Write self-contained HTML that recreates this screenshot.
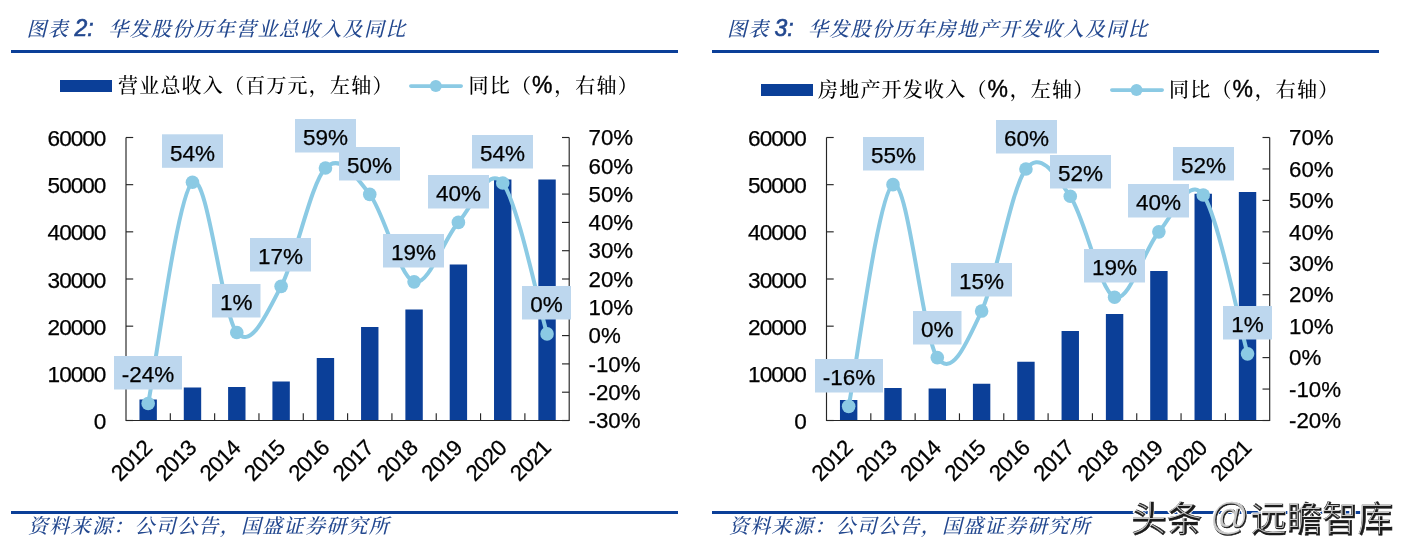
<!DOCTYPE html>
<html lang="zh-CN">
<head>
<meta charset="utf-8">
<title>华发股份历年营业总收入及同比</title>
<style>
html,body{margin:0;padding:0;background:#fff;}
body{width:1408px;height:553px;overflow:hidden;}
svg{display:block;}
</style>
</head>
<body>
<svg width="1408" height="553" viewBox="0 0 1408 553">
<rect width="1408" height="553" fill="#fff"/>
<g font-family='"Liberation Serif", "Noto Serif CJK SC", serif' font-style="italic" font-weight="500" letter-spacing="1.3" fill="#23488F">
<text x="26.5" y="35.5" font-size="20">图表</text><text x="74.5" y="36" font-family='"Liberation Sans", sans-serif' font-weight="normal" font-size="23" letter-spacing="0" stroke="#23488F" stroke-width="0.6">2:</text><text x="108.3" y="35.5" font-size="20">华发股份历年营业总收入及同比</text>
<text x="727" y="35.5" font-size="20">图表</text><text x="774.5" y="36" font-family='"Liberation Sans", sans-serif' font-weight="normal" font-size="23" letter-spacing="0" stroke="#23488F" stroke-width="0.6">3:</text><text x="808" y="35.5" font-size="20">华发股份历年房地产开发收入及同比</text>
<text x="28" y="533" font-size="20">资料来源：公司公告，国盛证券研究所</text>
<text x="729" y="533" font-size="20">资料来源：公司公告，国盛证券研究所</text>
</g>
<rect x="11" y="50" width="667" height="3" fill="#0B3F98"/>
<rect x="712" y="50" width="667" height="3" fill="#0B3F98"/>
<rect x="11" y="511" width="667" height="3" fill="#0B3F98"/>
<rect x="712" y="511" width="667" height="3" fill="#0B3F98"/>
<g font-family='"Liberation Serif", "Noto Serif CJK SC", serif' font-size="20" font-weight="500" letter-spacing="1.2" fill="#000">
<rect x="60" y="80" width="52" height="12" fill="#0B3F98"/>
<text x="118" y="92.5">营业总收入（百万元，左轴）</text>
<path d="M410.8,86.1 H461.2" stroke="#8BCAE4" stroke-width="3.6" stroke-linecap="round"/><circle cx="435.8" cy="86" r="6" fill="#8BCAE4"/>
<text x="468.5" y="92.5">同比（<tspan font-family='"Liberation Sans", sans-serif' font-size="23" font-weight="400" letter-spacing="1.6" stroke="#000" stroke-width="0.4">%</tspan>，右轴）</text>
<rect x="761" y="84" width="52" height="12" fill="#0B3F98"/>
<text x="818" y="96.5">房地产开发收入（<tspan font-family='"Liberation Sans", sans-serif' font-size="23" font-weight="400" letter-spacing="1.6" stroke="#000" stroke-width="0.4">%</tspan>，左轴）</text>
<path d="M1111.8,90.1 H1162.2" stroke="#8BCAE4" stroke-width="3.6" stroke-linecap="round"/><circle cx="1136.5" cy="90" r="6" fill="#8BCAE4"/>
<text x="1169" y="96.5">同比（<tspan font-family='"Liberation Sans", sans-serif' font-size="23" font-weight="400" letter-spacing="1.6" stroke="#000" stroke-width="0.4">%</tspan>，右轴）</text>
</g>
<rect x="139.46" y="399.50" width="17.4" height="21.00" fill="#0B3F98"/>
<rect x="183.78" y="387.50" width="17.4" height="33.00" fill="#0B3F98"/>
<rect x="228.10" y="387.00" width="17.4" height="33.50" fill="#0B3F98"/>
<rect x="272.42" y="381.50" width="17.4" height="39.00" fill="#0B3F98"/>
<rect x="316.74" y="358.00" width="17.4" height="62.50" fill="#0B3F98"/>
<rect x="361.06" y="327.00" width="17.4" height="93.50" fill="#0B3F98"/>
<rect x="405.38" y="309.50" width="17.4" height="111.00" fill="#0B3F98"/>
<rect x="449.70" y="264.50" width="17.4" height="156.00" fill="#0B3F98"/>
<rect x="494.02" y="179.50" width="17.4" height="241.00" fill="#0B3F98"/>
<rect x="538.34" y="179.50" width="17.4" height="241.00" fill="#0B3F98"/>
<g stroke="#262626" stroke-width="1.15" fill="none">
<path d="M126.00,137.50 V420.50 H569.20 V137.50"/>
<path d="M126.00,420.50 h7.2"/>
<path d="M126.00,373.33 h7.2"/>
<path d="M126.00,326.17 h7.2"/>
<path d="M126.00,279.00 h7.2"/>
<path d="M126.00,231.83 h7.2"/>
<path d="M126.00,184.67 h7.2"/>
<path d="M126.00,137.50 h7.2"/>
<path d="M569.20,420.50 h-7.2"/>
<path d="M569.20,392.20 h-7.2"/>
<path d="M569.20,363.90 h-7.2"/>
<path d="M569.20,335.60 h-7.2"/>
<path d="M569.20,307.30 h-7.2"/>
<path d="M569.20,279.00 h-7.2"/>
<path d="M569.20,250.70 h-7.2"/>
<path d="M569.20,222.40 h-7.2"/>
<path d="M569.20,194.10 h-7.2"/>
<path d="M569.20,165.80 h-7.2"/>
<path d="M569.20,137.50 h-7.2"/>
<path d="M170.32,420.50 v-7.2"/>
<path d="M214.64,420.50 v-7.2"/>
<path d="M258.96,420.50 v-7.2"/>
<path d="M303.28,420.50 v-7.2"/>
<path d="M347.60,420.50 v-7.2"/>
<path d="M391.92,420.50 v-7.2"/>
<path d="M436.24,420.50 v-7.2"/>
<path d="M480.56,420.50 v-7.2"/>
<path d="M524.88,420.50 v-7.2"/>
</g>
<g font-family='"Liberation Sans", sans-serif' font-size="22.3" fill="#000" stroke="#000" stroke-width="0.25">
<text x="105.40" y="429.00" text-anchor="end" font-size="22.6" letter-spacing="-1.0">0</text>
<text x="105.40" y="381.83" text-anchor="end" font-size="22.6" letter-spacing="-1.0">10000</text>
<text x="105.40" y="334.67" text-anchor="end" font-size="22.6" letter-spacing="-1.0">20000</text>
<text x="105.40" y="287.50" text-anchor="end" font-size="22.6" letter-spacing="-1.0">30000</text>
<text x="105.40" y="240.33" text-anchor="end" font-size="22.6" letter-spacing="-1.0">40000</text>
<text x="105.40" y="193.17" text-anchor="end" font-size="22.6" letter-spacing="-1.0">50000</text>
<text x="105.40" y="146.00" text-anchor="end" font-size="22.6" letter-spacing="-1.0">60000</text>
<text x="588.50" y="428.20">-30%</text>
<text x="588.50" y="399.90">-20%</text>
<text x="588.50" y="371.60">-10%</text>
<text x="588.50" y="343.30">0%</text>
<text x="588.50" y="315.00">10%</text>
<text x="588.50" y="286.70">20%</text>
<text x="588.50" y="258.40">30%</text>
<text x="588.50" y="230.10">40%</text>
<text x="588.50" y="201.80">50%</text>
<text x="588.50" y="173.50">60%</text>
<text x="588.50" y="145.20">70%</text>
<text transform="translate(153.16,449.50) rotate(-45)" text-anchor="end" letter-spacing="-0.8">2012</text>
<text transform="translate(197.48,449.50) rotate(-45)" text-anchor="end" letter-spacing="-0.8">2013</text>
<text transform="translate(241.80,449.50) rotate(-45)" text-anchor="end" letter-spacing="-0.8">2014</text>
<text transform="translate(286.12,449.50) rotate(-45)" text-anchor="end" letter-spacing="-0.8">2015</text>
<text transform="translate(330.44,449.50) rotate(-45)" text-anchor="end" letter-spacing="-0.8">2016</text>
<text transform="translate(374.76,449.50) rotate(-45)" text-anchor="end" letter-spacing="-0.8">2017</text>
<text transform="translate(419.08,449.50) rotate(-45)" text-anchor="end" letter-spacing="-0.8">2018</text>
<text transform="translate(463.40,449.50) rotate(-45)" text-anchor="end" letter-spacing="-0.8">2019</text>
<text transform="translate(507.72,449.50) rotate(-45)" text-anchor="end" letter-spacing="-0.8">2020</text>
<text transform="translate(552.04,449.50) rotate(-45)" text-anchor="end" letter-spacing="-0.8">2021</text>
</g>
<path d="M148.16,403.52 C155.55,366.64 177.71,194.05 192.48,182.21 C207.25,170.38 222.03,315.13 236.80,332.49 C251.57,349.84 266.35,313.76 281.12,286.36 C295.89,258.95 310.67,183.39 325.44,168.06 C340.21,152.73 354.99,175.42 369.76,194.38 C384.53,213.34 399.31,277.16 414.08,281.83 C428.85,286.50 443.63,238.86 458.40,222.40 C473.17,205.94 487.95,164.48 502.72,183.06 C517.49,201.65 539.65,308.76 547.04,333.90" fill="none" stroke="#8BCAE4" stroke-width="4" stroke-linejoin="round" stroke-linecap="round"/>
<circle cx="148.16" cy="403.52" r="6.8" fill="#8BCAE4"/>
<circle cx="192.48" cy="182.21" r="6.8" fill="#8BCAE4"/>
<circle cx="236.80" cy="332.49" r="6.8" fill="#8BCAE4"/>
<circle cx="281.12" cy="286.36" r="6.8" fill="#8BCAE4"/>
<circle cx="325.44" cy="168.06" r="6.8" fill="#8BCAE4"/>
<circle cx="369.76" cy="194.38" r="6.8" fill="#8BCAE4"/>
<circle cx="414.08" cy="281.83" r="6.8" fill="#8BCAE4"/>
<circle cx="458.40" cy="222.40" r="6.8" fill="#8BCAE4"/>
<circle cx="502.72" cy="183.06" r="6.8" fill="#8BCAE4"/>
<circle cx="547.04" cy="333.90" r="6.8" fill="#8BCAE4"/>
<g font-family='"Liberation Sans", sans-serif' font-size="22.5" fill="#000" stroke="#000" stroke-width="0.25" text-anchor="middle">
<rect x="114.00" y="356.00" width="68.00" height="33.5" fill="#BDD7EE" stroke="none"/>
<text x="148.00" y="382.40">-24%</text>
<rect x="162.00" y="134.30" width="61.00" height="33.5" fill="#BDD7EE" stroke="none"/>
<text x="192.50" y="160.70">54%</text>
<rect x="212.00" y="284.00" width="48.50" height="33.5" fill="#BDD7EE" stroke="none"/>
<text x="236.25" y="310.40">1%</text>
<rect x="250.00" y="238.00" width="61.00" height="33.5" fill="#BDD7EE" stroke="none"/>
<text x="280.50" y="264.40">17%</text>
<rect x="295.00" y="119.00" width="61.00" height="33.5" fill="#BDD7EE" stroke="none"/>
<text x="325.50" y="145.40">59%</text>
<rect x="339.00" y="147.00" width="61.00" height="33.5" fill="#BDD7EE" stroke="none"/>
<text x="369.50" y="173.40">50%</text>
<rect x="383.00" y="234.00" width="61.00" height="33.5" fill="#BDD7EE" stroke="none"/>
<text x="413.50" y="260.40">19%</text>
<rect x="428.00" y="175.00" width="61.00" height="33.5" fill="#BDD7EE" stroke="none"/>
<text x="458.50" y="201.40">40%</text>
<rect x="472.00" y="135.00" width="61.00" height="33.5" fill="#BDD7EE" stroke="none"/>
<text x="502.50" y="161.40">54%</text>
<rect x="522.00" y="286.00" width="49.00" height="33.5" fill="#BDD7EE" stroke="none"/>
<text x="546.50" y="312.40">0%</text>
</g>
<rect x="839.96" y="400.00" width="17.4" height="20.50" fill="#0B3F98"/>
<rect x="884.28" y="388.00" width="17.4" height="32.50" fill="#0B3F98"/>
<rect x="928.60" y="388.50" width="17.4" height="32.00" fill="#0B3F98"/>
<rect x="972.92" y="383.75" width="17.4" height="36.75" fill="#0B3F98"/>
<rect x="1017.24" y="361.75" width="17.4" height="58.75" fill="#0B3F98"/>
<rect x="1061.56" y="331.00" width="17.4" height="89.50" fill="#0B3F98"/>
<rect x="1105.88" y="314.00" width="17.4" height="106.50" fill="#0B3F98"/>
<rect x="1150.20" y="271.00" width="17.4" height="149.50" fill="#0B3F98"/>
<rect x="1194.52" y="193.75" width="17.4" height="226.75" fill="#0B3F98"/>
<rect x="1238.84" y="192.00" width="17.4" height="228.50" fill="#0B3F98"/>
<g stroke="#262626" stroke-width="1.15" fill="none">
<path d="M826.50,137.50 V420.50 H1269.70 V137.50"/>
<path d="M826.50,420.50 h7.2"/>
<path d="M826.50,373.33 h7.2"/>
<path d="M826.50,326.17 h7.2"/>
<path d="M826.50,279.00 h7.2"/>
<path d="M826.50,231.83 h7.2"/>
<path d="M826.50,184.67 h7.2"/>
<path d="M826.50,137.50 h7.2"/>
<path d="M1269.70,420.50 h-7.2"/>
<path d="M1269.70,389.06 h-7.2"/>
<path d="M1269.70,357.61 h-7.2"/>
<path d="M1269.70,326.17 h-7.2"/>
<path d="M1269.70,294.72 h-7.2"/>
<path d="M1269.70,263.28 h-7.2"/>
<path d="M1269.70,231.83 h-7.2"/>
<path d="M1269.70,200.39 h-7.2"/>
<path d="M1269.70,168.94 h-7.2"/>
<path d="M1269.70,137.50 h-7.2"/>
<path d="M870.82,420.50 v-7.2"/>
<path d="M915.14,420.50 v-7.2"/>
<path d="M959.46,420.50 v-7.2"/>
<path d="M1003.78,420.50 v-7.2"/>
<path d="M1048.10,420.50 v-7.2"/>
<path d="M1092.42,420.50 v-7.2"/>
<path d="M1136.74,420.50 v-7.2"/>
<path d="M1181.06,420.50 v-7.2"/>
<path d="M1225.38,420.50 v-7.2"/>
</g>
<g font-family='"Liberation Sans", sans-serif' font-size="22.3" fill="#000" stroke="#000" stroke-width="0.25">
<text x="805.90" y="429.00" text-anchor="end" font-size="22.6" letter-spacing="-1.0">0</text>
<text x="805.90" y="381.83" text-anchor="end" font-size="22.6" letter-spacing="-1.0">10000</text>
<text x="805.90" y="334.67" text-anchor="end" font-size="22.6" letter-spacing="-1.0">20000</text>
<text x="805.90" y="287.50" text-anchor="end" font-size="22.6" letter-spacing="-1.0">30000</text>
<text x="805.90" y="240.33" text-anchor="end" font-size="22.6" letter-spacing="-1.0">40000</text>
<text x="805.90" y="193.17" text-anchor="end" font-size="22.6" letter-spacing="-1.0">50000</text>
<text x="805.90" y="146.00" text-anchor="end" font-size="22.6" letter-spacing="-1.0">60000</text>
<text x="1289.00" y="428.20">-20%</text>
<text x="1289.00" y="396.76">-10%</text>
<text x="1289.00" y="365.31">0%</text>
<text x="1289.00" y="333.87">10%</text>
<text x="1289.00" y="302.42">20%</text>
<text x="1289.00" y="270.98">30%</text>
<text x="1289.00" y="239.53">40%</text>
<text x="1289.00" y="208.09">50%</text>
<text x="1289.00" y="176.64">60%</text>
<text x="1289.00" y="145.20">70%</text>
<text transform="translate(853.66,449.50) rotate(-45)" text-anchor="end" letter-spacing="-0.8">2012</text>
<text transform="translate(897.98,449.50) rotate(-45)" text-anchor="end" letter-spacing="-0.8">2013</text>
<text transform="translate(942.30,449.50) rotate(-45)" text-anchor="end" letter-spacing="-0.8">2014</text>
<text transform="translate(986.62,449.50) rotate(-45)" text-anchor="end" letter-spacing="-0.8">2015</text>
<text transform="translate(1030.94,449.50) rotate(-45)" text-anchor="end" letter-spacing="-0.8">2016</text>
<text transform="translate(1075.26,449.50) rotate(-45)" text-anchor="end" letter-spacing="-0.8">2017</text>
<text transform="translate(1119.58,449.50) rotate(-45)" text-anchor="end" letter-spacing="-0.8">2018</text>
<text transform="translate(1163.90,449.50) rotate(-45)" text-anchor="end" letter-spacing="-0.8">2019</text>
<text transform="translate(1208.22,449.50) rotate(-45)" text-anchor="end" letter-spacing="-0.8">2020</text>
<text transform="translate(1252.54,449.50) rotate(-45)" text-anchor="end" letter-spacing="-0.8">2021</text>
</g>
<path d="M848.66,406.35 C856.05,369.40 878.21,192.79 892.98,184.67 C907.75,176.54 922.53,336.54 937.30,357.61 C952.07,378.68 966.85,342.52 981.62,311.07 C996.39,279.63 1011.17,188.07 1025.94,168.94 C1040.71,149.82 1055.49,174.92 1070.26,196.30 C1085.03,217.68 1099.81,291.32 1114.58,297.24 C1129.35,303.16 1144.13,248.87 1158.90,231.83 C1173.67,214.80 1188.45,174.71 1203.22,195.04 C1217.99,215.38 1240.15,327.37 1247.54,353.84" fill="none" stroke="#8BCAE4" stroke-width="4" stroke-linejoin="round" stroke-linecap="round"/>
<circle cx="848.66" cy="406.35" r="6.8" fill="#8BCAE4"/>
<circle cx="892.98" cy="184.67" r="6.8" fill="#8BCAE4"/>
<circle cx="937.30" cy="357.61" r="6.8" fill="#8BCAE4"/>
<circle cx="981.62" cy="311.07" r="6.8" fill="#8BCAE4"/>
<circle cx="1025.94" cy="168.94" r="6.8" fill="#8BCAE4"/>
<circle cx="1070.26" cy="196.30" r="6.8" fill="#8BCAE4"/>
<circle cx="1114.58" cy="297.24" r="6.8" fill="#8BCAE4"/>
<circle cx="1158.90" cy="231.83" r="6.8" fill="#8BCAE4"/>
<circle cx="1203.22" cy="195.04" r="6.8" fill="#8BCAE4"/>
<circle cx="1247.54" cy="353.84" r="6.8" fill="#8BCAE4"/>
<g font-family='"Liberation Sans", sans-serif' font-size="22.5" fill="#000" stroke="#000" stroke-width="0.25" text-anchor="middle">
<rect x="815.00" y="359.00" width="68.00" height="33.5" fill="#BDD7EE" stroke="none"/>
<text x="849.00" y="385.40">-16%</text>
<rect x="863.00" y="137.00" width="61.00" height="33.5" fill="#BDD7EE" stroke="none"/>
<text x="893.50" y="163.40">55%</text>
<rect x="913.00" y="311.00" width="48.50" height="33.5" fill="#BDD7EE" stroke="none"/>
<text x="937.25" y="337.40">0%</text>
<rect x="951.00" y="263.00" width="61.00" height="33.5" fill="#BDD7EE" stroke="none"/>
<text x="981.50" y="289.40">15%</text>
<rect x="996.00" y="120.00" width="61.00" height="33.5" fill="#BDD7EE" stroke="none"/>
<text x="1026.50" y="146.40">60%</text>
<rect x="1050.00" y="155.00" width="61.00" height="33.5" fill="#BDD7EE" stroke="none"/>
<text x="1080.50" y="181.40">52%</text>
<rect x="1084.00" y="249.00" width="61.00" height="33.5" fill="#BDD7EE" stroke="none"/>
<text x="1114.50" y="275.40">19%</text>
<rect x="1128.00" y="184.00" width="61.00" height="33.5" fill="#BDD7EE" stroke="none"/>
<text x="1158.50" y="210.40">40%</text>
<rect x="1173.00" y="147.00" width="61.00" height="33.5" fill="#BDD7EE" stroke="none"/>
<text x="1203.50" y="173.40">52%</text>
<rect x="1223.00" y="306.00" width="49.00" height="33.5" fill="#BDD7EE" stroke="none"/>
<text x="1247.50" y="332.40">1%</text>
</g>
<g font-family='"Liberation Sans", "Noto Sans CJK SC", sans-serif' font-size="35.5">
<text x="1131" y="532" fill="#fff" font-weight="500" stroke="#fff" stroke-width="3" stroke-linejoin="round">头条<tspan font-size="38.5" dy="-2" dx="8">@</tspan><tspan dy="2" dx="2">远瞻智库</tspan></text>
<text x="1131.5" y="532" fill="#1c1c1c" font-weight="500" stroke="#1c1c1c" stroke-width="0.6">头条<tspan font-size="38.5" dy="-2" dx="8">@</tspan><tspan dy="2" dx="2">远瞻智库</tspan></text>
<text x="1130.6" y="530.9" fill="#fff" font-weight="100" opacity="0.75">头条<tspan font-size="38.5" dy="-2" dx="8">@</tspan><tspan dy="2" dx="2">远瞻智库</tspan></text>
</g>
</svg>
</body>
</html>
